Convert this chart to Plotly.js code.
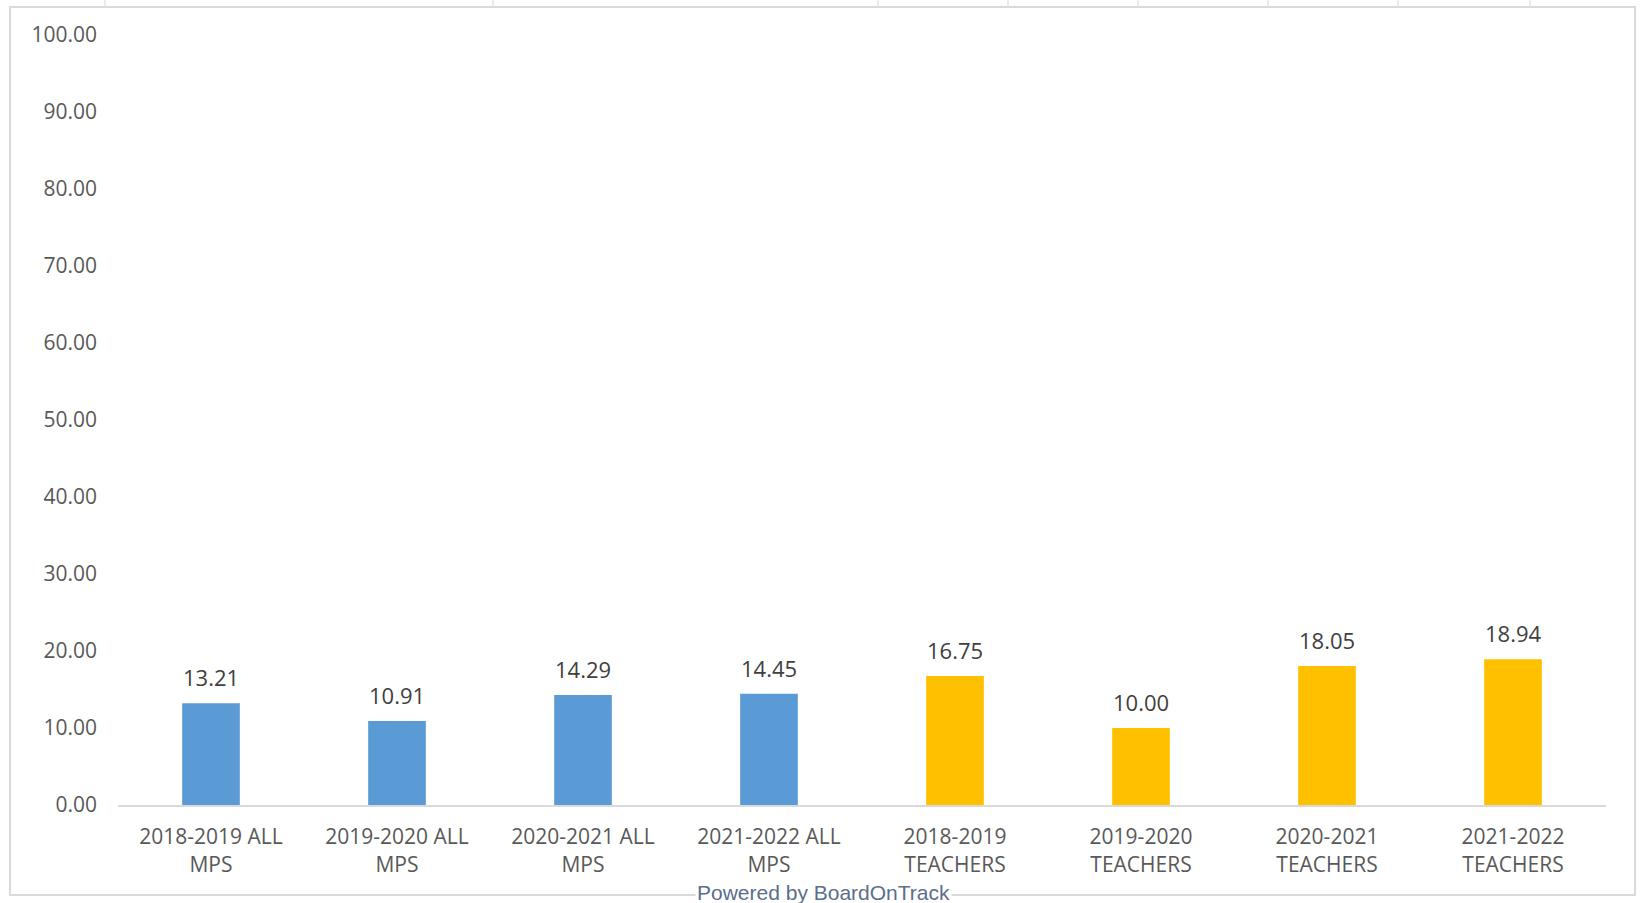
<!DOCTYPE html>
<html>
<head>
<meta charset="utf-8">
<script src="https://cdn.plot.ly/plotly-3.0.1.min.js"></script>
<style>
  html, body { margin: 0; padding: 0; background: #ffffff; }
  #chart { width: 1640px; height: 903px; }
</style>
</head>
<body>
<div id="chart"></div>
<script>
const categories = [
  "2018-2019 ALL<br>MPS", "2019-2020 ALL<br>MPS", "2020-2021 ALL<br>MPS", "2021-2022 ALL<br>MPS",
  "2018-2019<br>TEACHERS", "2019-2020<br>TEACHERS", "2020-2021<br>TEACHERS", "2021-2022<br>TEACHERS"
];
const allMpsCategories = categories.slice(0, 4);
const teacherCategories = categories.slice(4);
const allMpsValues = [13.21, 10.91, 14.29, 14.45];
const teacherValues = [16.75, 10.00, 18.05, 18.94];
const yTickValues = [0, 10, 20, 30, 40, 50, 60, 70, 80, 90, 100];
const yTickLabels = ["0.00", "10.00", "20.00", "30.00", "40.00", "50.00", "60.00", "70.00", "80.00", "90.00", "100.00"];

const FONT = '"Open Sans", "Noto Sans", sans-serif';

const traces = [
  { type: 'bar', x: allMpsCategories, y: allMpsValues, marker: { color: '#5B9BD5' }, hoverinfo: 'x+y' },
  { type: 'bar', x: teacherCategories, y: teacherValues, marker: { color: '#FFC000' }, hoverinfo: 'x+y' }
];

const labelAnnotations = [];
allMpsCategories.forEach((c, i) => labelAnnotations.push({ x: c, y: allMpsValues[i] }));
teacherCategories.forEach((c, i) => labelAnnotations.push({ x: c, y: teacherValues[i] }));
const annotations = labelAnnotations.map(a => ({
  x: a.x, y: a.y, xref: 'x', yref: 'y', text: a.y.toFixed(2), showarrow: false,
  yanchor: 'bottom', yshift: 9, font: { family: FONT, size: 22, color: '#404040' }
}));
annotations.push({
  x: 0.474, y: -0.113, xref: 'paper', yref: 'paper', xanchor: 'center', yanchor: 'middle',
  text: 'Powered by BoardOnTrack', showarrow: false, bgcolor: '#ffffff',
  font: { family: 'Liberation Sans, Arial, sans-serif', size: 21, color: '#5b6e8c' }
});

// faint spreadsheet cell borders peeking out above the chart frame
const cellEdgesPx = [105, 493, 878, 1008, 1138, 1268, 1398, 1530];
const plotLeft = 118, plotWidth = 1488;
const shapes = [
  { type: 'rect', xref: 'paper', yref: 'paper', x0: -0.0726, x1: 1.0195, y0: -0.117, y1: 1.0364,
    line: { color: '#d9d9d9', width: 2 }, fillcolor: 'rgba(0,0,0,0)', layer: 'below' }
];
cellEdgesPx.forEach(px => shapes.push({
  type: 'line', xref: 'paper', yref: 'paper',
  x0: (px - plotLeft) / plotWidth, x1: (px - plotLeft) / plotWidth, y0: 1.0364, y1: 1.0455,
  line: { color: '#e3e3e3', width: 1.5 }
}));

const layout = {
  width: 1640, height: 903,
  margin: { l: 118, r: 34, t: 35, b: 98 },
  paper_bgcolor: '#ffffff', plot_bgcolor: '#ffffff',
  showlegend: false,
  barmode: 'relative',
  bargap: 0.69,
  font: { family: FONT, color: '#595959', size: 21 },
  xaxis: {
    type: 'category', categoryarray: categories, categoryorder: 'array',
    showline: true, linecolor: '#d9d9d9', linewidth: 2,
    ticks: '', showgrid: false, zeroline: false,
    tickfont: { family: FONT, size: 21, color: '#595959' },
    ticklabelstandoff: 12
  },
  yaxis: {
    range: [0, 100], tickvals: yTickValues, ticktext: yTickLabels,
    showgrid: false, zeroline: false, showline: false, ticks: '',
    tickfont: { family: FONT, size: 21, color: '#595959' },
    ticklabelstandoff: 20
  },
  annotations: annotations,
  shapes: shapes
};

Plotly.newPlot('chart', traces, layout, { displayModeBar: false, staticPlot: true });
</script>
</body>
</html>
